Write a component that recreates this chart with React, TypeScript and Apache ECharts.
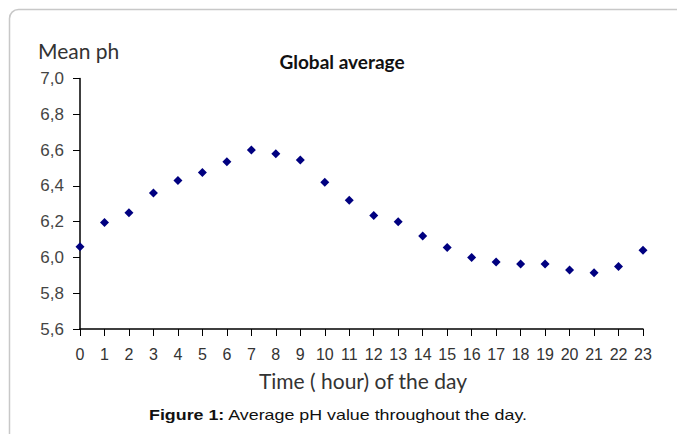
import React, { useEffect, useRef } from "react";
import * as echarts from "echarts";

const hours = [0, 1, 2, 3, 4, 5, 6, 7, 8, 9, 10, 11, 12, 13, 14, 15, 16, 17, 18, 19, 20, 21, 22, 23];
const meanPh = [6.06, 6.195, 6.25, 6.36, 6.43, 6.475, 6.535, 6.6, 6.58, 6.545, 6.42, 6.32, 6.235, 6.2, 6.12, 6.055, 6.0, 5.975, 5.963, 5.963, 5.93, 5.915, 5.95, 6.04];
const yTicks = [5.6, 5.8, 6.0, 6.2, 6.4, 6.6, 6.8, 7.0];

export default function App() {
  const ref = useRef<HTMLDivElement>(null);
  useEffect(() => {
    if (!ref.current) return;
    const chart = echarts.init(ref.current, null, { renderer: "svg" });
    chart.setOption({
      animation: false,
      backgroundColor: "#ffffff",
      grid: { left: 80, right: 34, top: 78.5, bottom: 105, containLabel: false },
      title: {
        text: "Global average",
        left: 337,
        top: 47,
        textAlign: "center",
        textStyle: { fontFamily: "Lato", fontWeight: "bold", fontSize: 19, color: "#111" },
      },
      xAxis: {
        type: "value",
        min: 0,
        max: 23,
        interval: 1,
        axisLine: { show: true, onZero: false, lineStyle: { color: "#000", width: 1.5 } },
        axisTick: { show: true, length: 7, inside: false, lineStyle: { color: "#000", width: 1 } },
        axisLabel: {
          fontFamily: "Liberation Sans",
          fontSize: 16,
          color: "#333",
          margin: 17,
          formatter: (v: number) => String(hours[v] ?? v),
        },
        splitLine: { show: false },
      },
      yAxis: {
        type: "value",
        min: 5.6,
        max: 7.0,
        interval: 0.2,
        axisLine: { show: true, lineStyle: { color: "#000", width: 1.5 } },
        axisTick: { show: true, length: 7, lineStyle: { color: "#000", width: 1 } },
        axisLabel: {
          fontFamily: "Liberation Sans",
          fontSize: 17,
          color: "#444",
          margin: 16,
          formatter: (v: number) => {
            const t = yTicks.find((x) => Math.abs(x - v) < 1e-6) ?? v;
            return t.toFixed(1).replace(".", ",");
          },
        },
        splitLine: { show: false },
      },
      graphic: [
        {
          type: "rect",
          shape: { x: 9.5, y: 9.5, width: 720, height: 520, r: 9 },
          style: { fill: "none", stroke: "#c8c8c8", lineWidth: 1.5 },
          silent: true,
        },
        {
          type: "text",
          x: 38,
          y: 40,
          style: { text: "Mean ph", fontFamily: "Lato", fontSize: 21, fill: "#333" },
        },
        {
          type: "text",
          x: 363,
          y: 380,
          style: {
            text: "Time ( hour) of the day",
            fontFamily: "Lato",
            fontSize: 21,
            fill: "#333",
            align: "center",
            verticalAlign: "middle",
          },
        },
        {
          type: "text",
          x: 149,
          y: 407,
          scaleX: 1.23,
          style: {
            text: "{b|Figure 1:} Average pH value throughout the day.",
            fontFamily: "Liberation Sans",
            fontSize: 14.5,
            fill: "#111",
            rich: { b: { fontFamily: "Liberation Sans", fontSize: 14.5, fontWeight: "bold", fill: "#111" } },
          },
        },
      ],
      series: [
        {
          type: "scatter",
          symbol: "diamond",
          symbolSize: 9,
          itemStyle: { color: "#000080", opacity: 1 },
          data: hours.map((h, i) => [h, meanPh[i]]),
        },
      ],
    });
    return () => chart.dispose();
  }, []);
  return <div ref={ref} style={{ position: "fixed", left: 0, top: 0, width: 677, height: 434 }} />;
}
